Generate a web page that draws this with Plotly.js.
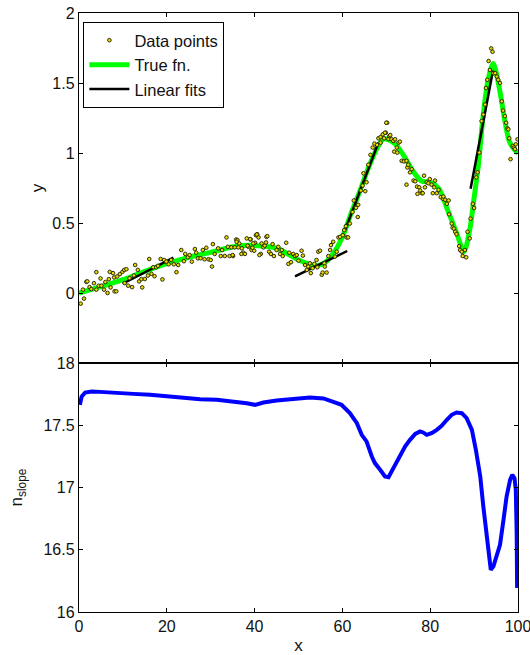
<!DOCTYPE html>
<html>
<head>
<meta charset="utf-8">
<script src="https://cdn.plot.ly/plotly-3.0.1.min.js"></script>
<style>
  html, body { margin: 0; padding: 0; background: #fff; }
  #chart { width: 530px; height: 655px; }
</style>
</head>
<body>
<div id="chart"></div>
<script>
// Noisy samples
const dataX = [
  0.38, 1.14, 0.9, 1.67, 1.9, 2.4, 2.8, 3.4, 3.95, 3.95, 4.5, 4.9, 5.1, 5.7, 6.0, 6.5, 6.8, 7.0, 7.2, 7.75,
  8.0, 8.1, 8.5, 8.7, 9.3, 9.9, 10.3, 10.8, 10.4, 11.2, 11.5, 12.1, 12.5, 12.8, 13.4, 13.7, 14.2, 14.4, 15.0, 15.7,
  16.0, 16.5, 16.9, 17.2, 17.6, 18.0, 18.6, 19.0, 19.4, 19.9, 20.4, 21.0, 21.6, 22.2, 22.6, 23.3, 23.9, 24.2, 24.8, 25.2,
  25.7, 26.4, 26.7, 27.1, 27.7, 28.2, 28.6, 29.0, 29.5, 30.0, 30.3, 30.5, 30.9, 31.7, 32.3, 32.6, 33.2, 33.6, 33.9, 34.3,
  34.7, 35.1, 35.5, 35.8, 36.1, 36.5, 37.1, 37.4, 38.2, 38.6, 39.1, 39.3, 39.9, 40.1, 40.3, 40.6, 40.9, 41.4, 41.6, 42.0,
  42.7, 35.0, 35.9, 36.3, 37.0, 37.8, 38.4, 39.0, 39.5, 39.7, 40.5, 41.1, 42.3, 42.6, 42.9, 43.3, 43.7, 44.1, 44.4, 45.0,
  45.4, 45.8, 46.2, 46.4, 47.2, 47.7, 47.9, 48.3, 48.8, 49.2, 49.6, 50.0, 50.7, 51.0, 51.5, 51.9, 52.2, 52.6, 52.8, 53.2,
  53.6, 54.1, 54.3, 54.5, 54.9, 55.3, 55.5, 55.9, 56.0, 56.4, 56.8, 57.2, 57.4, 57.9, 58.3, 58.7, 59.1, 59.5, 60.1, 60.4,
  60.8, 60.97, 61.3, 61.7, 62.3, 62.6, 63.1, 63.5, 63.6, 64.2, 64.6, 64.8, 65.2, 65.5, 65.9, 66.4, 66.9, 67.3, 67.9, 68.2,
  68.7, 69.2, 69.5, 69.9, 70.2, 70.5, 68.7, 69.7, 70.0, 70.7, 70.9, 71.2, 71.6, 72.0, 72.4, 72.8, 73.1, 71.8, 72.5, 73.5,
  74.0, 74.6, 74.8, 75.0, 75.4, 75.8, 74.6, 76.2, 76.6, 77.0, 77.1, 77.5, 77.7, 78.1, 78.3, 78.6, 78.8, 79.2, 79.6, 79.9,
  80.3, 80.6, 80.9, 81.1, 81.5, 81.9, 82.4, 82.9, 83.0, 83.4, 83.8, 84.2, 84.3, 84.9, 85.1, 85.4, 85.7, 86.0, 86.6, 86.8,
  87.2, 87.4, 87.9, 88.2, 88.5, 89.0, 89.2, 89.7, 90.0, 90.5, 90.8, 91.2, 91.7, 92.1, 92.5, 92.7, 93.0, 93.3, 93.6, 93.9,
  94.2, 94.4, 94.8, 95.2, 95.5, 95.9, 96.3, 96.6, 97.0, 97.3, 97.6, 97.8, 98.0, 98.3, 98.8, 99.1, 99.5, 99.9, 99.3
];
const dataY = [
  -0.076, -0.04, 0.024, 0.08, 0.083, 0.042, 0.028, 0.07, 0.149, 0.024, 0.052, 0.104, 0.052, 0.024, 0.078, 0.0, 0.099, 0.151, 0.04, 0.142,
  0.111, 0.012, 0.012, 0.118, 0.135, 0.151, 0.165, 0.17, 0.071, 0.052, 0.106, 0.042, 0.125, 0.2, 0.165, 0.083, 0.099, 0.04, 0.1, 0.125,
  0.243, 0.137, 0.184, 0.12, 0.184, 0.194, 0.243, 0.097, 0.236, 0.224, 0.205, 0.236, 0.205, 0.149, 0.2, 0.307, 0.227, 0.279, 0.255, 0.271,
  0.224, 0.314, 0.288, 0.248, 0.248, 0.307, 0.241, 0.323, 0.241, 0.236, 0.189, 0.349, 0.279, 0.319, 0.264, 0.307, 0.264, 0.397, 0.33, 0.264,
  0.326, 0.264, 0.326, 0.382, 0.378, 0.354, 0.319, 0.288, 0.39, 0.33, 0.382, 0.307, 0.302, 0.359, 0.413, 0.42, 0.397, 0.279, 0.354, 0.326,
  0.401, 0.271, 0.366, 0.326, 0.279, 0.279, 0.338, 0.385, 0.323, 0.354, 0.418, 0.271, 0.338, 0.361, 0.406, 0.295, 0.279, 0.349, 0.264, 0.307,
  0.33, 0.279, 0.307, 0.264, 0.359, 0.208, 0.288, 0.22, 0.279, 0.264, 0.271, 0.231, 0.302, 0.267, 0.2, 0.165, 0.189, 0.212, 0.142, 0.177,
  0.208, 0.236, 0.184, 0.295, 0.302, 0.13, 0.146, 0.212, 0.189, 0.146, 0.264, 0.307, 0.342, 0.366, 0.26, 0.295, 0.397, 0.401, 0.413, 0.449,
  0.477, 0.397, 0.397, 0.496, 0.578, 0.661, 0.609, 0.543, 0.63, 0.732, 0.767, 0.855, 0.727, 0.791, 0.916, 0.987, 1.039, 1.067, 1.058, 1.105,
  1.114, 1.133, 1.105, 1.145, 1.216, 1.1, 1.074, 1.145, 1.216, 1.121, 1.128, 1.098, 1.086, 1.098, 1.039, 1.074, 1.081, 1.01, 1.003, 0.944,
  0.94, 0.944, 0.897, 0.916, 0.862, 0.885, 0.774, 0.803, 0.798, 0.76, 0.708, 0.755, 0.732, 0.713, 0.713, 0.838, 0.755, 0.791, 0.784, 0.814,
  0.774, 0.713, 0.755, 0.803, 0.713, 0.737, 0.685, 0.673, 0.689, 0.666, 0.637, 0.661, 0.562, 0.496, 0.467, 0.46, 0.437, 0.42, 0.335, 0.307,
  0.295, 0.264, 0.307, 0.255, 0.437, 0.39, 0.531, 0.637, 0.607, 0.826, 0.862, 1.003, 1.228, 1.275, 1.346, 1.464, 1.523, 1.657, 1.593, 1.747,
  1.723, 1.57, 1.57, 1.546, 1.523, 1.5, 1.369, 1.303, 1.263, 1.216, 1.176, 1.169, 1.105, 0.956, 1.05, 1.039, 1.062, 1.098, 1.027
];

// Underlying smooth function
const trueX = [0, 5, 10, 15, 20, 25, 30, 36, 40, 45, 50, 54, 56, 58, 60, 62, 64, 66, 68, 69.3, 70, 72, 74, 76, 78, 80, 82, 84, 86, 87.7, 89, 90, 91, 92, 93, 94, 94.4, 95, 96, 97, 98, 99, 100];
const trueY = [0, 0.045, 0.095, 0.155, 0.21, 0.255, 0.29, 0.335, 0.34, 0.32, 0.236, 0.195, 0.217, 0.285, 0.40, 0.57, 0.73, 0.90, 1.04, 1.10, 1.10, 1.065, 0.98, 0.873, 0.80, 0.79, 0.745, 0.59, 0.43, 0.295, 0.45, 0.68, 0.92, 1.25, 1.49, 1.62, 1.64, 1.58, 1.42, 1.23, 1.085, 1.03, 1.0];

// Local linear fits: start and end of each segment
const fitX0 = [9.95, 49.2, 60.6, 89.2];
const fitY0 = [0.066, 0.118, 0.448, 0.744];
const fitX1 = [21.5, 61.1, 68.2, 94.3];
const fitY1 = [0.252, 0.300, 1.074, 1.590];

// Slope window size along x
const slopeX = [0.2, 0.6, 1.4, 2.9, 4.8, 8.6, 12.4, 16.2, 20.0, 23.8, 27.6, 31.4, 35.2, 38.2, 40.1, 41.2, 42.0, 45.0, 48.8, 52.6,
  55.7, 57.9, 59.8, 61.7, 63.3, 64.4, 65.5, 66.7, 67.4, 68.6, 69.7, 70.5, 71.0, 72.0, 73.1, 74.3, 75.4, 76.6, 77.7, 78.4,
  79.2, 80.3, 81.5, 82.6, 83.8, 84.9, 86.0, 87.2, 88.3, 89.5, 90.4, 91.4, 92.1, 92.9, 93.5, 93.8, 94.4, 95.1, 95.9, 96.7,
  97.4, 98.2, 98.7, 99.2, 99.5, 99.7, 99.8];
const slopeN = [17.664, 17.73, 17.763, 17.771, 17.768, 17.763, 17.752, 17.744, 17.731, 17.717, 17.709, 17.704, 17.691, 17.677, 17.664, 17.68, 17.683, 17.699, 17.712, 17.723,
  17.715, 17.691, 17.664, 17.597, 17.517, 17.423, 17.37, 17.249, 17.196, 17.142, 17.089, 17.083, 17.116, 17.174, 17.249, 17.33, 17.383, 17.431, 17.45, 17.442,
  17.423, 17.437, 17.463, 17.495, 17.544, 17.584, 17.602, 17.597, 17.557, 17.463, 17.303, 17.089, 16.848, 16.581, 16.393, 16.34, 16.367, 16.447, 16.54, 16.741,
  16.928, 17.062, 17.102, 17.075, 16.982, 16.634, 16.193];

const xTicks = [0, 20, 40, 60, 80, 100];
const yTopTicks = [0, 0.5, 1, 1.5, 2];
const yBotTicks = [16, 16.5, 17, 17.5, 18];

// build the fit segments as one broken line
const fitXs = [], fitYs = [];
for (let i = 0; i < fitX0.length; i++) {
  fitXs.push(fitX0[i], fitX1[i], null);
  fitYs.push(fitY0[i], fitY1[i], null);
}

const FONT = 'Liberation Sans, Arial, Helvetica, sans-serif';

const traces = [
  {
    x: trueX, y: trueY, type: 'scatter', mode: 'lines', name: 'True fn.',
    line: { color: '#00ff00', width: 5, shape: 'spline', smoothing: 0.8 },
    xaxis: 'x', yaxis: 'y', legendrank: 2
  },
  {
    x: fitXs, y: fitYs, type: 'scatter', mode: 'lines', name: 'Linear fits',
    line: { color: '#000000', width: 2.5 },
    xaxis: 'x', yaxis: 'y', legendrank: 3, connectgaps: false
  },
  {
    x: dataX, y: dataY, type: 'scatter', mode: 'markers', name: 'Data points',
    marker: { symbol: 'circle', size: 3.6, color: '#e8dc00', line: { color: '#2e2c08', width: 1 } },
    xaxis: 'x', yaxis: 'y', legendrank: 1
  },
  {
    x: slopeX, y: slopeN, type: 'scatter', mode: 'lines', name: 'n_slope',
    line: { color: '#0000ff', width: 4 },
    xaxis: 'x2', yaxis: 'y2', showlegend: false
  }
];

const axisCommon = {
  showline: true, linecolor: '#000', linewidth: 1.2, mirror: 'ticks',
  ticks: 'inside', ticklen: 4, tickwidth: 1, tickcolor: '#000',
  showgrid: false, zeroline: false, ticklabeloverflow: 'allow',
  tickfont: { family: FONT, size: 16, color: '#111' }
};

const split = 0.4157;

const layout = {
  width: 530, height: 655,
  margin: { l: 79, r: 12, t: 13, b: 43 },
  paper_bgcolor: '#fff', plot_bgcolor: '#fff',
  font: { family: FONT, size: 16, color: '#111' },
  showlegend: true,
  legend: {
    x: 0.01, y: 0.985, xanchor: 'left', yanchor: 'top',
    bgcolor: '#fff', bordercolor: '#000', borderwidth: 1,
    font: { family: FONT, size: 16.5, color: '#111' },
    itemwidth: 40
  },
  xaxis: Object.assign({}, axisCommon, {
    domain: [0, 1], range: [0, 100], anchor: 'y',
    tickvals: xTicks, showticklabels: false
  }),
  yaxis: Object.assign({}, axisCommon, {
    domain: [split, 1], range: [-0.5, 2], anchor: 'x',
    tickvals: yTopTicks, ticktext: yTopTicks.map(String),
    title: { text: 'y', font: { family: FONT, size: 17, color: '#111' }, standoff: 4 }
  }),
  xaxis2: Object.assign({}, axisCommon, {
    domain: [0, 1], range: [0, 100], anchor: 'y2',
    tickvals: xTicks,
    title: { text: 'x', font: { family: FONT, size: 17, color: '#111' }, standoff: 5 }
  }),
  yaxis2: Object.assign({}, axisCommon, {
    domain: [0, split], range: [16, 18], anchor: 'x2',
    tickvals: yBotTicks, ticktext: yBotTicks.map(String),
    title: { text: 'n<sub>slope</sub>', font: { family: FONT, size: 17, color: '#111' }, standoff: 16 }
  })
};

Plotly.newPlot('chart', traces, layout, { staticPlot: true, displayModeBar: false });
</script>
</body>
</html>
